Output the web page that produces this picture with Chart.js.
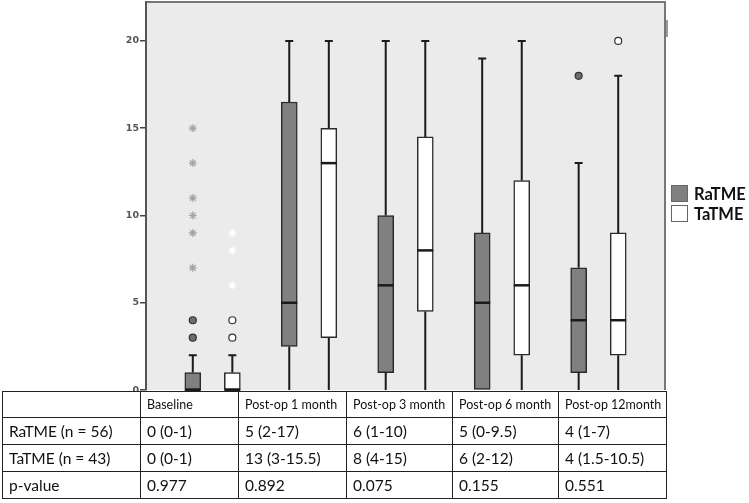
<!DOCTYPE html>
<html>
<head>
<meta charset="utf-8">
<script src="https://cdn.jsdelivr.net/npm/chart.js@4.4.1/dist/chart.umd.min.js"></script>
<style>
  body { margin: 0; background: #fff; font-family: Lato, "Open Sans", sans-serif; }
  #wrap { position: relative; width: 749px; height: 503px; overflow: hidden; }
  #chart { position: absolute; left: 0; top: 0; }
  .legend { position: absolute; left: 671px; font-weight: bold; font-size: 16.5px; color: #111; }
  .legend span.sw { position: absolute; left: 0; width: 15px; height: 15px; border: 1px solid #666; }
  .legend span.tx { position: absolute; left: 23px; top: -1px; white-space: nowrap; }
  table { position: absolute; left: 2px; top: 391px; border-collapse: collapse; color: #111; }
  td { border: 1.5px solid #222; padding: 0 0 0 6px; font-size: 15.5px; height: 26px; text-align: left; }
  tr.head td { font-size: 12.5px; height: 25px; }
</style>
</head>
<body>
<div id="wrap">
  <canvas id="chart" width="749" height="392"></canvas>
  <div class="legend" style="top:185px"><span class="sw" style="background:#808080"></span><span class="tx">RaTME</span></div>
  <div class="legend" style="top:205px"><span class="sw" style="background:#fff"></span><span class="tx">TaTME</span></div>
  <table id="tbl"></table>
</div>
<script>
// ===== data =====
const categories = ['Baseline', 'Post-op 1 month', 'Post-op 3 month', 'Post-op 6 month', 'Post-op 12month'];
const yTicks = [0, 5, 10, 15, 20];

// RaTME box stats
const raMin = [0, 0, 0, 0, 0];
const raQ1 = [0, 2.5, 1, 0, 1];
const raMed = [0, 5, 6, 5, 4];
const raQ3 = [1, 16.5, 10, 9, 7];
const raMax = [2, 20, 20, 19, 13];

// TaTME box stats
const taMin = [0, 0, 0, 0, 0];
const taQ1 = [0, 3, 4.5, 2, 2];
const taMed = [0, 13, 8, 6, 4];
const taQ3 = [1, 15, 14.5, 12, 9];
const taMax = [2, 20, 20, 20, 18];

// outliers: [category index, value]
const raCircles = [[0, 3], [0, 4], [4, 18]];
const raStars = [[0, 7], [0, 9], [0, 10], [0, 11], [0, 13], [0, 15]];
const taCircles = [[0, 3], [0, 4], [4, 20]];
const taStars = [[0, 6], [0, 8], [0, 9]];

// table below the chart
const rowLabels = ['RaTME (n = 56)', 'TaTME (n = 43)', 'p-value'];
const raSummary = ['0 (0-1)', '5 (2-17)', '6 (1-10)', '5 (0-9.5)', '4 (1-7)'];
const taSummary = ['0 (0-1)', '13 (3-15.5)', '8 (4-15)', '6 (2-12)', '4 (1.5-10.5)'];
const pValues = ['0.977', '0.892', '0.075', '0.155', '0.551'];

// ===== layout =====
const OFF = 0.205;      // box offset from group centre (x units)
const BOX_W = 16;
const CAP_W = 8;
const colWidths = [138, 98, 108, 106, 106, 108];

function boxes(q1, q3, shift) {
    return q1.map((v, i) => ({ x: i + shift, y: [v, q3[i]] }));
}
function pts(list, shift) {
    return list.map(([i, v]) => ({ x: i + shift, y: v }));
}

// background + frame
const frame = {
    id: 'frame',
    beforeDraw(chart) {
        const { ctx, chartArea: a } = chart;
        ctx.save();
        ctx.fillStyle = '#ebebeb';
        ctx.fillRect(a.left, a.top, a.right - a.left, a.bottom - a.top);
        ctx.strokeStyle = '#777';
        ctx.lineWidth = 2;
        ctx.beginPath();
        ctx.moveTo(a.left, a.top);
        ctx.lineTo(a.right, a.top);
        ctx.lineTo(a.right, a.bottom);
        ctx.stroke();
        ctx.fillStyle = '#999';
        ctx.fillRect(a.right + 1, 20, 2, 17);
        ctx.restore();
    }
};

// whiskers + medians
const whiskers = {
    id: 'whiskers',
    afterDatasetsDraw(chart) {
        const { ctx, scales: { x, y } } = chart;
        ctx.save();
        ctx.strokeStyle = '#1a1a1a';
        const groups = [
            [raMin, raQ1, raMed, raQ3, raMax, -OFF],
            [taMin, taQ1, taMed, taQ3, taMax, OFF]
        ];
        groups.forEach(([mn, q1, md, q3, mx, shift]) => {
            categories.forEach((c, i) => {
                const px = x.getPixelForValue(i + shift);
                ctx.lineWidth = 2;
                ctx.beginPath();
                if (mx[i] > q3[i]) {
                    ctx.moveTo(px, y.getPixelForValue(q3[i]));
                    ctx.lineTo(px, y.getPixelForValue(mx[i]));
                    ctx.moveTo(px - CAP_W / 2, y.getPixelForValue(mx[i]));
                    ctx.lineTo(px + CAP_W / 2, y.getPixelForValue(mx[i]));
                }
                if (mn[i] < q1[i]) {
                    ctx.moveTo(px, y.getPixelForValue(q1[i]));
                    ctx.lineTo(px, y.getPixelForValue(mn[i]));
                }
                ctx.stroke();
                ctx.lineWidth = 2.5;
                ctx.beginPath();
                ctx.moveTo(px - BOX_W / 2, y.getPixelForValue(md[i]));
                ctx.lineTo(px + BOX_W / 2, y.getPixelForValue(md[i]));
                ctx.stroke();
            });
        });
        ctx.restore();
    }
};

new Chart(document.getElementById('chart').getContext('2d'), {
    type: 'bar',
    data: {
        datasets: [{
            label: 'RaTME',
            data: boxes(raQ1, raQ3, -OFF),
            backgroundColor: '#808080',
            borderColor: '#2a2a2a',
            borderWidth: 1.5,
            borderSkipped: false,
            barThickness: BOX_W,
            grouped: false
        }, {
            label: 'TaTME',
            data: boxes(taQ1, taQ3, OFF),
            backgroundColor: '#ffffff',
            borderColor: '#2a2a2a',
            borderWidth: 1.5,
            borderSkipped: false,
            barThickness: BOX_W,
            grouped: false
        }, {
            type: 'scatter',
            label: 'RaTME outliers',
            data: pts(raCircles, -OFF),
            pointStyle: 'circle',
            radius: 3.5,
            backgroundColor: '#6e6e6e',
            borderColor: '#333',
            borderWidth: 1.2
        }, {
            type: 'scatter',
            label: 'TaTME outliers',
            data: pts(taCircles, OFF),
            pointStyle: 'circle',
            radius: 3.5,
            backgroundColor: '#ffffff',
            borderColor: '#333',
            borderWidth: 1.2
        }, {
            type: 'scatter',
            label: 'RaTME extremes',
            data: pts(raStars, -OFF),
            pointStyle: 'star',
            radius: 4,
            borderColor: '#a3a3a3',
            borderWidth: 1.2
        }, {
            type: 'scatter',
            label: 'TaTME extremes',
            data: pts(taStars, OFF),
            pointStyle: 'star',
            radius: 4,
            borderColor: '#ffffff',
            borderWidth: 1.2
        }]
    },
    options: {
        responsive: false,
        animation: false,
        layout: { autoPadding: false, padding: { top: 2, right: 84, bottom: 1, left: 0 } },
        plugins: { legend: { display: false }, tooltip: { enabled: false } },
        scales: {
            x: {
                type: 'linear',
                offset: false,
                min: -0.69,
                max: 4.69,
                display: false
            },
            y: {
                min: 0,
                max: 22.23,
                afterBuildTicks: (s) => { s.ticks = yTicks.map(v => ({ value: v })); },
                afterFit: (s) => { s.width = 146; },
                ticks: {
                    padding: 1,
                    color: '#555',
                    // small lineHeight keeps the label half-height from shrinking the plot area
                    font: { family: 'DejaVu Sans', size: 9.5, weight: 'bold', lineHeight: 0.2 }
                },
                grid: { drawOnChartArea: false, drawTicks: true, tickLength: 6, color: '#444', lineWidth: 1.5 },
                border: { display: true, color: '#555', width: 2 }
            }
        }
    },
    plugins: [frame, whiskers]
});

// table
const tbl = document.getElementById('tbl');
function addRow(cells, cls) {
    const tr = document.createElement('tr');
    if (cls) tr.className = cls;
    cells.forEach((t, i) => {
        const td = document.createElement('td');
        td.textContent = t;
        td.style.width = (colWidths[i] - 7) + 'px';
        tr.appendChild(td);
    });
    tbl.appendChild(tr);
}
addRow([''].concat(categories), 'head');
addRow([rowLabels[0]].concat(raSummary));
addRow([rowLabels[1]].concat(taSummary));
addRow([rowLabels[2]].concat(pValues));
</script>
</body>
</html>
